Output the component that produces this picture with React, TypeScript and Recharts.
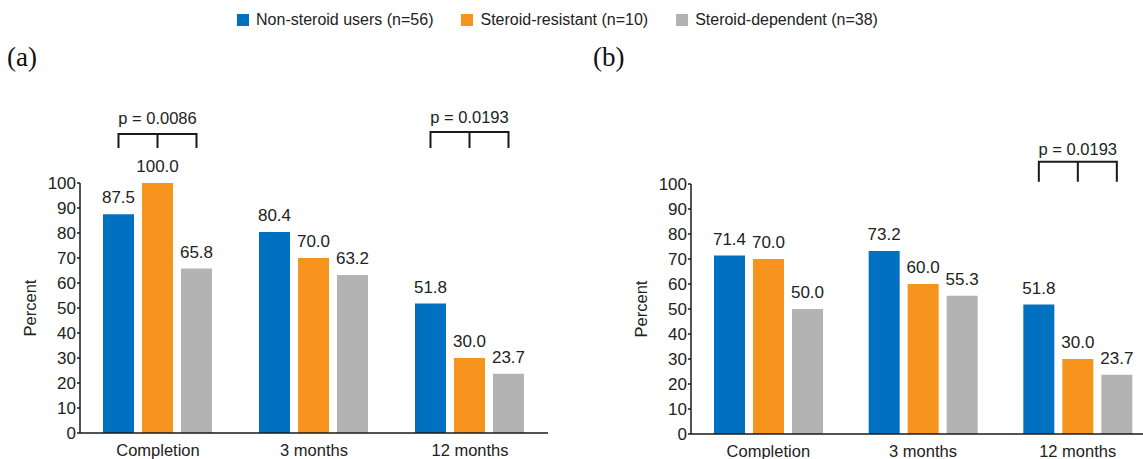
import React from 'react';
import { BarChart, Bar, XAxis, YAxis, LabelList, Legend } from 'recharts';

const categories = ['Completion', '3 months', '12 months'];
const seriesNames = ['Non-steroid users (n=56)', 'Steroid-resistant (n=10)', 'Steroid-dependent (n=38)'];
const seriesColors = ['#0070C0', '#F7941E', '#B3B3B3'];

const nonSteroidA = [87.5, 80.4, 51.8];
const resistantA = [100.0, 70.0, 30.0];
const dependentA = [65.8, 63.2, 23.7];

const nonSteroidB = [71.4, 73.2, 51.8];
const resistantB = [70.0, 60.0, 30.0];
const dependentB = [50.0, 55.3, 23.7];

const yTicks = [0, 10, 20, 30, 40, 50, 60, 70, 80, 90, 100];

// significance brackets, in data units (percent)
const bracketsA = [
  { category: 'Completion', text: 'p = 0.0086', top: 119.6, foot: 114, label: 126 },
  { category: '12 months', text: 'p = 0.0193', top: 120.4, foot: 114, label: 126.4 },
];
const bracketsB = [
  { category: '12 months', text: 'p = 0.0193', top: 108.9, foot: 100.9, label: 113.9 },
];

const FONT = '"Liberation Sans", Arial, Helvetica, sans-serif';
const SERIF = '"Liberation Serif", "Times New Roman", Times, serif';
const TEXT = '#222222';
const AXIS = '#1a1a1a';
const BAR_GAP = 8;

const buildRows = (a: number[], b: number[], c: number[]) =>
  categories.map((cat, i) => ({ category: cat, ns: a[i], sr: b[i], sd: c[i] }));

const dataA = buildRows(nonSteroidA, resistantA, dependentA);
const dataB = buildRows(nonSteroidB, resistantB, dependentB);

type Bracket = { category: string; text: string; top: number; foot: number; label: number };

const makeBracketContent = (brackets: Bracket[]) => (props: any) => {
  const vb = props.viewBox || props;
  const x = Number(vb.x ?? props.x);
  const y = Number(vb.y ?? props.y);
  const w = Number(vb.width ?? props.width);
  const h = Number(vb.height ?? props.height);
  const idx = props.index;
  const cat = categories[idx];
  const b = brackets.find((br) => br.category === cat);
  const value = Number(props.value);
  if (!b || !value || !isFinite(x) || !isFinite(h)) return null;
  const zeroY = y + h;
  const ppu = h / value;
  const yAt = (v: number) => zeroY - v * ppu;
  const cx = x + w / 2;
  const step = w + BAR_GAP;
  const left = cx - step;
  const right = cx + step;
  const yTop = yAt(b.top);
  const yFoot = yAt(b.foot);
  const yText = yAt(b.label);
  return (
    <g>
      <path
        d={`M${left},${yFoot}V${yTop}H${right}V${yFoot}M${cx},${yTop}V${yFoot}`}
        stroke={AXIS}
        strokeWidth={2}
        fill="none"
      />
      <text
        x={cx}
        y={yText}
        textAnchor="middle"
        dominantBaseline="central"
        fill={TEXT}
        fontSize={16.5}
        fontFamily={FONT}
      >
        {b.text}
      </text>
    </g>
  );
};

const renderLegend = (props: any) => {
  const payload = [...(props.payload || [])].sort(
    (p: any, q: any) => seriesNames.indexOf(p.value) - seriesNames.indexOf(q.value)
  );
  return (
    <div
      style={{
        display: 'flex',
        justifyContent: 'center',
        alignItems: 'center',
        fontFamily: FONT,
        fontSize: 16,
        color: TEXT,
        lineHeight: '20px',
        whiteSpace: 'nowrap',
      }}
    >
      {payload.map((p: any, i: number) => (
        <div key={i} style={{ display: 'flex', alignItems: 'center', marginLeft: i ? 28 : 0 }}>
          <span style={{ width: 12, height: 12, background: p.color, marginRight: 7, display: 'inline-block' }} />
          <span>{p.value}</span>
        </div>
      ))}
    </div>
  );
};

const fmt = (v: any) => Number(v).toFixed(1);

const Panel = ({
  data,
  brackets,
  width,
  margin,
  withLegend,
}: {
  data: any[];
  brackets: Bracket[];
  width: number;
  margin: { top: number; right: number; bottom: number; left: number };
  withLegend: boolean;
}) => {
  const keys = ['ns', 'sr', 'sd'];
  return (
    <BarChart
      width={width}
      height={459}
      data={data}
      margin={margin}
      barCategoryGap={23}
      barGap={BAR_GAP}
    >
      <XAxis
        dataKey="category"
        height={20}
        tickLine={false}
        tickSize={6}
        tickMargin={5}
        axisLine={{ stroke: AXIS, strokeWidth: 1.5 }}
        tick={{ fill: TEXT, fontSize: 16.5, fontFamily: FONT }}
        interval={0}
      />
      <YAxis
        width={55}
        domain={[0, 100]}
        ticks={yTicks}
        interval={0}
        tickSize={3}
        tickMargin={1}
        axisLine={{ stroke: AXIS, strokeWidth: 1.5 }}
        tickLine={{ stroke: AXIS, strokeWidth: 1.5 }}
        tick={{ fill: TEXT, fontSize: 17, fontFamily: FONT }}
        label={{
          value: 'Percent',
          angle: -90,
          position: 'insideLeft',
          offset: 5,
          style: { textAnchor: 'middle', fill: TEXT, fontSize: 16.5, fontFamily: FONT },
        }}
      />
      {withLegend && (
        <Legend
          layout="horizontal"
          verticalAlign="middle"
          align="center"
          content={renderLegend}
          wrapperStyle={{ left: 0, top: 10, width: 1115, height: 20 }}
        />
      )}
      {keys.map((k, i) => (
        <Bar key={k} dataKey={k} name={seriesNames[i]} fill={seriesColors[i]} isAnimationActive={false}>
          <LabelList
            dataKey={k}
            position="top"
            offset={11}
            formatter={fmt}
            style={{ fill: TEXT, fontSize: 17, fontFamily: FONT }}
          />
          {i === 1 && <LabelList dataKey={k} content={makeBracketContent(brackets)} />}
        </Bar>
      ))}
    </BarChart>
  );
};

export default function App() {
  return (
    <div
      style={{
        position: 'absolute',
        left: 0,
        top: 0,
        width: 1143,
        height: 459,
        overflow: 'hidden',
        background: '#ffffff',
      }}
    >
      <div style={{ position: 'absolute', left: 0, top: 0 }}>
        <Panel
          data={dataA}
          brackets={bracketsA}
          width={560}
          margin={{ top: 183, right: 12, bottom: 6, left: 25 }}
          withLegend={true}
        />
      </div>
      <div style={{ position: 'absolute', left: 600, top: 0 }}>
        <Panel
          data={dataB}
          brackets={bracketsB}
          width={570}
          margin={{ top: 184, right: 15, bottom: 5, left: 36 }}
          withLegend={false}
        />
      </div>
      <div
        style={{
          position: 'absolute',
          left: 7,
          top: 44,
          fontFamily: SERIF,
          fontSize: 27,
          lineHeight: '27px',
          color: '#111',
        }}
      >
        (a)
      </div>
      <div
        style={{
          position: 'absolute',
          left: 593,
          top: 44,
          fontFamily: SERIF,
          fontSize: 27,
          lineHeight: '27px',
          color: '#111',
        }}
      >
        (b)
      </div>
    </div>
  );
}
